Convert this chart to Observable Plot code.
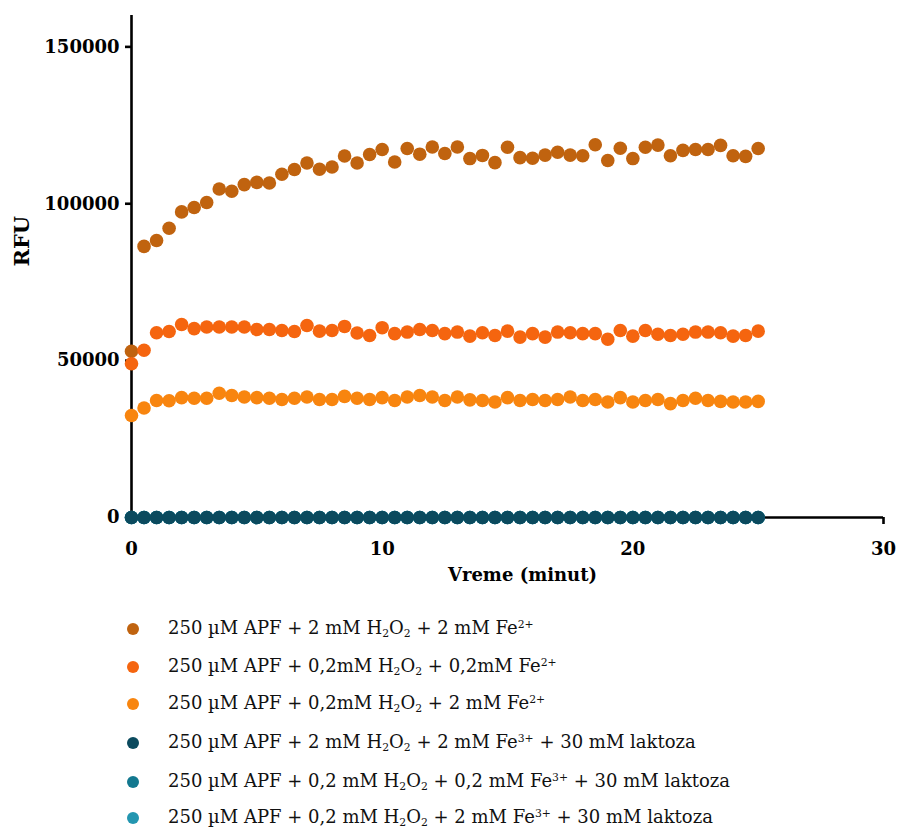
<!DOCTYPE html>
<html>
<head>
<meta charset="utf-8">
<script src="https://cdn.jsdelivr.net/npm/d3@7"></script>
<script src="https://cdn.jsdelivr.net/npm/@observablehq/plot@0.6"></script>
<style>
  body { margin: 0; background: #fff; }
  #chart svg { display: block; }
  .legend { position: relative; height: 231px; font-family: "DejaVu Serif", serif; font-size: 18px; color: #111; }
  .row { position: absolute; left: 0; height: 20px; display: flex; align-items: center; }
  .dot { position: absolute; left: 127px; width: 12px; height: 12px; border-radius: 50%; }
  .lab { position: absolute; left: 168px; white-space: nowrap; }
  sub, sup { font-size: 0.6em; }
  sub { vertical-align: -0.3em; }
  sup { vertical-align: 0.6em; }
</style>
</head>
<body>
<div id="chart"></div>
<div class="legend" id="legend"></div>
<script>
const times = [0,0.5,1,1.5,2,2.5,3,3.5,4,4.5,5,5.5,6,6.5,7,7.5,8,8.5,9,9.5,10,10.5,11,11.5,12,12.5,13,13.5,14,14.5,15,15.5,16,16.5,17,17.5,18,18.5,19,19.5,20,20.5,21,21.5,22,22.5,23,23.5,24,24.5,25];

const seriesNames = [
  "250 µM APF + 2 mM H<sub>2</sub>O<sub>2</sub> + 2 mM Fe<sup>2+</sup>",
  "250 µM APF + 0,2mM H<sub>2</sub>O<sub>2</sub> + 0,2mM Fe<sup>2+</sup>",
  "250 µM APF + 0,2mM H<sub>2</sub>O<sub>2</sub> + 2 mM Fe<sup>2+</sup>",
  "250 µM APF + 2 mM H<sub>2</sub>O<sub>2</sub> + 2 mM Fe<sup>3+</sup> + 30 mM laktoza",
  "250 µM APF + 0,2 mM H<sub>2</sub>O<sub>2</sub> + 0,2 mM Fe<sup>3+</sup> + 30 mM laktoza",
  "250 µM APF + 0,2 mM H<sub>2</sub>O<sub>2</sub> + 2 mM Fe<sup>3+</sup> + 30 mM laktoza"
];
const seriesColors = ["#c0630f", "#f5650f", "#f8850f", "#0b4a5e", "#13788f", "#2396b0"];

const s1 = [53000,86400,88300,92200,97400,98800,100400,104700,104000,106100,106800,106600,109400,110900,113000,111000,111700,115200,113000,115700,117300,113300,117600,115800,118100,116000,118100,114400,115400,113100,118000,114700,114500,115500,116400,115500,115300,118800,113800,117700,114400,118000,118700,115300,117000,117300,117300,118600,115300,115100,117600];
const s2 = [49000,53300,58900,59300,61500,60200,60700,60700,60700,60700,59900,59900,59600,59300,61200,59400,59600,60900,58800,58000,60500,58600,59100,59900,59600,58600,59100,57800,58900,58000,59400,57500,58600,57500,59100,58900,58600,58600,56800,59600,57800,59600,58400,58000,58400,59100,59100,58900,57800,58000,59400];
const s3 = [32500,34900,37300,37200,38200,38000,38000,39600,38900,38400,38200,38000,37600,38000,38400,37600,37600,38600,38000,37600,38200,37300,38400,38900,38400,37300,38400,37500,37300,36800,38200,37300,37600,37300,37600,38400,37300,37600,36800,38200,36800,37300,37600,36300,37300,38000,37300,37000,36800,36800,37000];
const s4 = [0,0,0,0,0,0,0,0,0,0,0,0,0,0,0,0,0,0,0,0,0,0,0,0,0,0,0,0,0,0,0,0,0,0,0,0,0,0,0,0,0,0,0,0,0,0,0,0,0,0,0];
const s5 = [0,0,0,0,0,0,0,0,0,0,0,0,0,0,0,0,0,0,0,0,0,0,0,0,0,0,0,0,0,0,0,0,0,0,0,0,0,0,0,0,0,0,0,0,0,0,0,0,0,0,0];
const s6 = [0,0,0,0,0,0,0,0,0,0,0,0,0,0,0,0,0,0,0,0,0,0,0,0,0,0,0,0,0,0,0,0,0,0,0,0,0,0,0,0,0,0,0,0,0,0,0,0,0,0,0];

const xTicks = [0, 10, 20, 30];
const yTicks = [0, 50000, 100000, 150000];
const xLabel = "Vreme (minut)";
const yLabel = "RFU";

const allSeries = [s1, s2, s3, s4, s5, s6];
// draw order: brown, red-orange, orange, then cyan, teal, dark teal on top
const drawOrder = [0, 1, 2, 5, 4, 3];

const tickFont = {fontFamily: "DejaVu Serif", fontWeight: "bold", fontSize: 18};

const dotMarks = drawOrder.map(i =>
  Plot.dot(times.map((t, j) => ({t, v: allSeries[i][j]})), {
    x: "t", y: "v", r: 6.8, fill: seriesColors[i], stroke: "none"
  })
);

const chart = Plot.plot({
  width: 898,
  height: 600,
  marginLeft: 131,
  marginRight: 15,
  marginTop: 15,
  marginBottom: 83,
  style: {background: "#fff", color: "#000"},
  x: {domain: [0, 30]},
  y: {domain: [0, 160000]},
  marks: [
    Plot.ruleX([0], {y1: 0, y2: 160000, stroke: "#000", strokeWidth: 2.6}),
    Plot.ruleY([0], {x1: 0, x2: 30, stroke: "#000", strokeWidth: 2.6}),
    Plot.axisY({ticks: yTicks, tickSize: 6, tickPadding: 6, strokeWidth: 2.6, tickFormat: d => String(d), label: null, ...tickFont}),
    Plot.axisX({ticks: xTicks, tickSize: 7, tickPadding: 18, strokeWidth: 2.6, tickFormat: d => String(d), label: null, ...tickFont}),
    Plot.text([yLabel], {frameAnchor: "left", dx: -109, rotate: -90, fontFamily: "DejaVu Serif", fontWeight: "bold", fontSize: 21, fill: "#000"}),
    Plot.text([xLabel], {frameAnchor: "bottom", dx: 15, dy: 63, fontFamily: "DejaVu Serif", fontWeight: "bold", fontSize: 18, fill: "#000"}),
    ...dotMarks
  ]
});
document.getElementById("chart").appendChild(chart);

const legend = document.getElementById("legend");
const rowCenters = [29, 67, 104, 143, 182, 218];
seriesNames.forEach((name, i) => {
  const row = document.createElement("div");
  row.className = "row";
  row.style.top = (rowCenters[i] - 10) + "px";
  row.innerHTML = `<span class="dot" style="background:${seriesColors[i]}"></span><span class="lab">${name}</span>`;
  legend.appendChild(row);
});
</script>
</body>
</html>
